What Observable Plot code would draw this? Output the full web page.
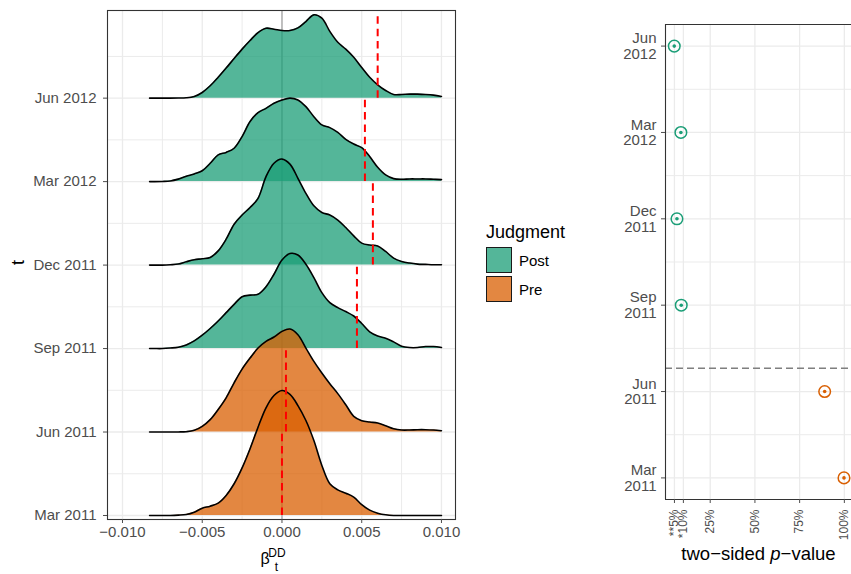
<!DOCTYPE html>
<html>
<head>
<meta charset="utf-8">
<script src="https://cdn.jsdelivr.net/npm/d3@7"></script>
<script src="https://cdn.jsdelivr.net/npm/@observablehq/plot@0.6"></script>
<style>
  body { margin: 0; background: #fff; font-family: "Liberation Sans", Arial, sans-serif; }
  #wrap { position: relative; width: 851px; height: 574px; overflow: hidden; background: #fff; }
  #left { position: absolute; left: 0; top: 0; width: 460px; height: 574px; }
  #right { position: absolute; left: 590px; top: 0; width: 261px; height: 574px; }
  #legend { position: absolute; left: 486px; top: 222px; width: 100px; }
  .lg-title { position: absolute; left: 0; top: 0.5px; font-size: 18px; line-height: 18px; color: #000; white-space: nowrap; }
  .lg-key { position: absolute; left: 0; width: 24px; height: 24px; border: 1.5px solid #1a1a1a; }
  .lg-lab { position: absolute; left: 33px; font-size: 15px; line-height: 15px; color: #000; white-space: nowrap; }
</style>
</head>
<body>
<div id="wrap">
  <div id="left"></div>
  <div id="right"></div>
  <div id="legend"></div>
</div>
<script>
// ---------------- data ----------------
const periods = ["Mar 2011", "Jun 2011", "Sep 2011", "Dec 2011", "Mar 2012", "Jun 2012"];
const judgment = ["Pre", "Pre", "Post", "Post", "Post", "Post"];
const judgmentLevels = ["Post", "Pre"];
const judgmentColors = ["#1B9E77", "#D95F02"];

const betaTicks = [-0.010, -0.005, 0.000, 0.005, 0.010];
const betaMinorTicks = [-0.0075, -0.0025, 0.0025, 0.0075];

const betaGrid = [-0.0083, -0.008, -0.0075, -0.007, -0.0065, -0.006, -0.0055, -0.005, -0.0045, -0.004,
  -0.0035, -0.003, -0.0025, -0.002, -0.0015, -0.001, -0.0005, 0, 0.0005, 0.001,
  0.0015, 0.002, 0.0025, 0.003, 0.0035, 0.004, 0.0045, 0.005, 0.0055, 0.006,
  0.0065, 0.007, 0.0075, 0.008, 0.0085, 0.009, 0.0095, 0.01];

// ridge heights (scaled density, in row units) at betaGrid
const densMar2011 = [0, 0, 0, 0, 0.004, 0.012, 0.04, 0.088, 0.112, 0.148,
  0.24, 0.38, 0.57, 0.80, 1.058, 1.29, 1.437, 1.497, 1.45, 1.317,
  1.138, 0.898, 0.60, 0.38, 0.307, 0.267, 0.22, 0.13, 0.064, 0.028,
  0.008, 0, 0, 0, 0, 0, 0, 0];
const densJun2011 = [0, 0, 0, 0, 0.001, 0.004, 0.02, 0.068, 0.148, 0.27,
  0.41, 0.59, 0.754, 0.886, 1.006, 1.086, 1.138, 1.206, 1.234, 1.166,
  1.006, 0.846, 0.707, 0.579, 0.46, 0.327, 0.188, 0.136, 0.12, 0.108,
  0.076, 0.04, 0.024, 0.024, 0.028, 0.028, 0.024, 0.016];
const densSep2011 = [0, 0, 0, 0.006, 0.016, 0.044, 0.092, 0.16, 0.24, 0.33,
  0.43, 0.53, 0.62, 0.64, 0.65, 0.74, 0.89, 1.06, 1.138, 1.12,
  1.01, 0.85, 0.67, 0.55, 0.49, 0.443, 0.39, 0.30, 0.20, 0.15,
  0.124, 0.08, 0.028, 0.012, 0.012, 0.024, 0.024, 0.012];
const densDec2011 = [0, 0, 0, 0.004, 0.012, 0.04, 0.064, 0.076, 0.092, 0.17,
  0.31, 0.49, 0.60, 0.69, 0.80, 1.06, 1.22, 1.27, 1.21, 1.04,
  0.86, 0.71, 0.63, 0.60, 0.54, 0.45, 0.35, 0.263, 0.24, 0.23,
  0.163, 0.084, 0.044, 0.024, 0.012, 0.008, 0.004, 0.004];
const densMar2012 = [0, 0, 0.002, 0.008, 0.03, 0.064, 0.092, 0.13, 0.22, 0.32,
  0.35, 0.40, 0.54, 0.72, 0.826, 0.878, 0.938, 0.978, 1.0, 0.978,
  0.898, 0.778, 0.68, 0.647, 0.59, 0.507, 0.45, 0.407, 0.30, 0.172,
  0.08, 0.036, 0.028, 0.032, 0.032, 0.032, 0.028, 0.024];
const densJun2012 = [0, 0, 0, 0, 0.001, 0.004, 0.02, 0.068, 0.148, 0.25,
  0.36, 0.475, 0.587, 0.69, 0.786, 0.838, 0.826, 0.81, 0.81, 0.842,
  0.918, 0.998, 0.958, 0.80, 0.67, 0.587, 0.49, 0.367, 0.25, 0.16,
  0.092, 0.044, 0.044, 0.048, 0.048, 0.044, 0.036, 0.02];
const densities = [densMar2011, densJun2011, densSep2011, densDec2011, densMar2012, densJun2012];

// red dashed reference value per period
const betaMarker = [0.0000, 0.00025, 0.0047, 0.0057, 0.0052, 0.0060];

// right panel: two-sided p-values
const pValues = [0.998, 0.89, 0.088, 0.064, 0.086, 0.049];
const pTicks = [0.05, 0.10, 0.25, 0.50, 0.75, 1.00];
const pTickLabels = ["**5%", "*10%", "25%", "50%", "75%", "100%"];
const judgmentDate = 1.27; // position of judgment (between Jun 2011 and Sep 2011)

// ---------------- shared ----------------
const rowIdx = periods.map((_, i) => i);
const colorScale = {domain: judgmentLevels, range: judgmentColors};
const baseStyle = {fontFamily: "'Liberation Sans', Arial, sans-serif", fontSize: "15px", color: "#4D4D4D", background: "transparent", overflow: "visible"};
const GRID = "#EBEBEB";

// ---------------- left: ridgelines ----------------
const leftMarks = [
  Plot.ruleX(betaMinorTicks, {stroke: GRID, strokeWidth: 1}),
  Plot.ruleX(betaTicks, {stroke: GRID, strokeWidth: 1.3}),
  Plot.ruleY(rowIdx.map(i => i + 0.5), {stroke: GRID, strokeWidth: 1}),
  Plot.ruleY(rowIdx, {stroke: GRID, strokeWidth: 1.3}),
  Plot.ruleX([0], {stroke: "#B3B3B3", strokeWidth: 1.6})
];
for (let i = periods.length - 1; i >= 0; i--) {
  const data = betaGrid.map((b, k) => ({b, base: i, top: i + densities[i][k], j: judgment[i]}));
  leftMarks.push(Plot.areaY(data, {x: "b", y1: "base", y2: "top", fill: "j", fillOpacity: 0.75, curve: "catmull-rom"}));
  leftMarks.push(Plot.lineY(data, {x: "b", y: "top", stroke: "black", strokeWidth: 1.6, curve: "catmull-rom"}));
}
const markerData = rowIdx.map(i => ({m: betaMarker[i], row: i}));
leftMarks.push(Plot.ruleX(markerData, {x: "m", y1: "row", y2: d => d.row + 0.98, stroke: "#FF0000", strokeWidth: 2, strokeDasharray: "7.5,4.8"}));
leftMarks.push(Plot.frame({stroke: "#333", strokeWidth: 1.1}));
leftMarks.push(Plot.axisX({ticks: betaTicks, tickFormat: d3.format(".3f"), tickSize: 4, tickPadding: 3, fontSize: 15, label: null}));
leftMarks.push(Plot.axisY({ticks: rowIdx, tickFormat: d => periods[d], tickSize: 4, tickPadding: 7, fontSize: 15, label: null}));
leftMarks.push(Plot.text(["t"], {frameAnchor: "left", dx: -89, rotate: -90, fontSize: 18, fill: "black", lineAnchor: "middle"}));

const left = Plot.plot({
  width: 460, height: 574,
  marginLeft: 107, marginRight: 5, marginTop: 10, marginBottom: 55,
  x: {domain: [-0.01094, 0.01088]},
  y: {domain: [-0.048, 6.05]},
  color: colorScale,
  style: baseStyle,
  marks: leftMarks
});
// axis title beta_t^DD as one text element with positioned tspans
{
  const s = d3.select(left);
  const t = s.append("text").attr("fill", "black").attr("font-family", "'Liberation Sans', Arial, sans-serif");
  t.append("tspan").attr("x", 265).attr("y", 564).attr("font-size", 16).text("β");
  t.append("tspan").attr("x", 276.5).attr("y", 570.5).attr("font-size", 12).text("t");
  t.append("tspan").attr("x", 277).attr("y", 556.5).attr("font-size", 12).text("DD");
}
document.getElementById("left").appendChild(left);

// ---------------- right: p-values ----------------
const pts = rowIdx.map(i => ({p: pValues[i], row: i, j: judgment[i]}));
const right = Plot.plot({
  width: 261, height: 574,
  marginLeft: 75, marginRight: 0, marginTop: 24, marginBottom: 75,
  x: {domain: [0, 1.04]},
  y: {domain: [-0.25, 5.25]},
  color: colorScale,
  style: baseStyle,
  marks: [
    Plot.ruleX(pTicks, {stroke: GRID, strokeWidth: 1.3}),
    Plot.ruleY(rowIdx.slice(0, -1).map(i => i + 0.5), {stroke: GRID, strokeWidth: 1}),
    Plot.ruleY(rowIdx, {stroke: GRID, strokeWidth: 1.3}),
    Plot.ruleY([judgmentDate], {stroke: "#7F7F7F", strokeWidth: 1.5, strokeDasharray: "7,4"}),
    Plot.ruleX([0], {stroke: "#333", strokeWidth: 1.1}),
    Plot.ruleY([-0.25, 5.25], {stroke: "#333", strokeWidth: 1.1}),
    Plot.dot(pts, {x: "p", y: "row", r: 5.8, stroke: "j", strokeWidth: 1.5, fill: "none"}),
    Plot.dot(pts, {x: "p", y: "row", r: 1.8, fill: "j", stroke: "none"}),
    Plot.axisY({ticks: rowIdx, tickFormat: d => periods[d].replace(" ", "\n"), tickSize: 4, tickPadding: 5, fontSize: 15, lineHeight: 1.05, label: null}),
    Plot.axisX({ticks: pTicks, tickFormat: d => pTickLabels[pTicks.indexOf(d)], tickRotate: -90, tickSize: 4, tickPadding: 6, fontSize: 12, label: null})
  ]
});
{
  const s = d3.select(right);
  const t = s.append("text").attr("x", 168.5).attr("y", 560).attr("text-anchor", "middle")
    .attr("font-size", 18.5).attr("fill", "black").attr("font-family", "'Liberation Sans', Arial, sans-serif");
  t.append("tspan").text("two−sided ");
  t.append("tspan").attr("font-style", "italic").text("p");
  t.append("tspan").text("−value");
}
document.getElementById("right").appendChild(right);

// ---------------- legend ----------------
const lg = document.getElementById("legend");
lg.innerHTML = `<div class="lg-title">Judgment</div>` + judgmentLevels.map((lev, i) => {
  const c = d3.color(judgmentColors[i]); c.opacity = 0.75;
  const top = 25 + i * 29;
  return `<div class="lg-key" style="top:${top}px;background:${c.formatRgb()}"></div>` +
         `<div class="lg-lab" style="top:${top + 6}px">${lev}</div>`;
}).join("");
</script>
</body>
</html>
